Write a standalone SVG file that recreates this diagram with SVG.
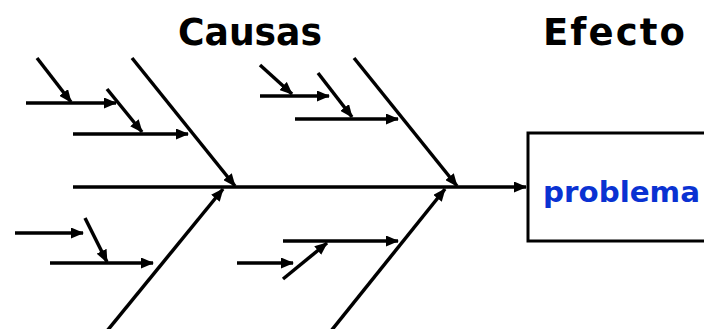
<svg xmlns="http://www.w3.org/2000/svg" width="704" height="329" viewBox="0 0 704 329">
<style>
.ln{stroke:#000;stroke-width:3.5;fill:none;marker-end:url(#ah)}
.title{font-family:"DejaVu Sans","Liberation Sans",sans-serif;font-weight:bold;font-size:37px;fill:#000}
.lbl{font-family:"DejaVu Sans","Liberation Sans",sans-serif;font-weight:bold;font-size:29px;fill:#0a32d2}
</style>
<defs>
<marker id="ah" markerUnits="userSpaceOnUse" markerWidth="13" markerHeight="11" refX="12" refY="5.5" orient="auto">
<path d="M0,0 L13,5.5 L0,11 z" fill="#000"/>
</marker>
</defs>
<rect width="704" height="329" fill="#fff"/>
<g id="titles">
<text class="title" x="178" y="45" textLength="144" lengthAdjust="spacingAndGlyphs">Causas</text>
<text class="title" x="543" y="45" textLength="142" lengthAdjust="spacing">Efecto</text>
</g>
<g id="connectors">
<line class="ln" x1="73" y1="187" x2="526" y2="187"/>
<line class="ln" x1="132" y1="58" x2="235" y2="186"/>
<line class="ln" x1="354" y1="58" x2="457" y2="186"/>
<line class="ln" x1="107" y1="331" x2="223" y2="189"/>
<line class="ln" x1="331" y1="331" x2="445" y2="189"/>
<line class="ln" x1="26" y1="103" x2="116" y2="103"/>
<line class="ln" x1="37" y1="58" x2="71" y2="102"/>
<line class="ln" x1="73" y1="134" x2="188" y2="134"/>
<line class="ln" x1="107" y1="89" x2="142" y2="132"/>
<line class="ln" x1="260" y1="96" x2="329" y2="96"/>
<line class="ln" x1="260" y1="65" x2="292" y2="94"/>
<line class="ln" x1="295" y1="119" x2="398" y2="119"/>
<line class="ln" x1="318" y1="73" x2="352" y2="117"/>
<line class="ln" x1="15" y1="233" x2="83" y2="233"/>
<line class="ln" x1="85" y1="218" x2="107" y2="262"/>
<line class="ln" x1="50" y1="263" x2="153" y2="263"/>
<line class="ln" x1="283" y1="241" x2="398" y2="241"/>
<line class="ln" x1="283" y1="279" x2="327" y2="243"/>
<line class="ln" x1="237" y1="263" x2="293" y2="263"/>
</g>
<g id="problema">
<rect x="528" y="133" width="200" height="108" fill="#fff" stroke="#000" stroke-width="3"/>
<text class="lbl" x="543" y="202" textLength="157" lengthAdjust="spacingAndGlyphs">problema</text>
</g>
</svg>
